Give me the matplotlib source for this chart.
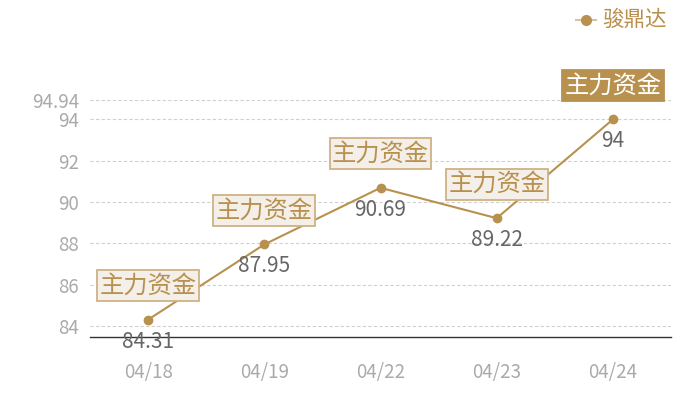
import numpy as np
import matplotlib.pyplot as plt

plt.rcParams['font.family'] = ['Noto Sans CJK SC', 'DejaVu Sans']

dates = ['04/18', '04/19', '04/22', '04/23', '04/24']
values = [84.31, 87.95, 90.69, 89.22, 94.0]
value_labels = ['84.31', '87.95', '90.69', '89.22', '94']
yticks = [84, 86, 88, 90, 92, 94, 94.94]
series_name = '骏鼎达'
tag = '主力资金'

gold = '#b8914f'
light = '#f4efe8'

fig = plt.figure(figsize=(7, 4), dpi=100)
ax = fig.add_axes([0.1286, 0.1575, 0.83, 0.5925])

x = np.arange(len(dates))
ax.plot(x, values, color=gold, lw=1.5, marker='o', ms=6, zorder=3)

ax.set_xlim(-0.5, len(dates) - 0.5)
ax.set_ylim(83.47, 94.94)
ax.set_yticks(yticks)
ax.set_yticklabels([('%g' % t) for t in yticks])
ax.set_xticks(x)
ax.set_xticklabels(dates)
ax.tick_params(axis='both', length=0, colors='#aaaaaa', labelsize=13.5)
ax.tick_params(axis='x', pad=18)
ax.tick_params(axis='y', pad=8)
for t in yticks:
    ax.axhline(t, color='#d0d0d0', lw=0.8, ls=(0, (3, 2)), zorder=1)
for s in ['top', 'right', 'left']:
    ax.spines[s].set_visible(False)
ax.spines['bottom'].set_color('#333333')
ax.spines['bottom'].set_linewidth(1)

for i, (v, lab) in enumerate(zip(values, value_labels)):
    ax.annotate(lab, (i, v), xytext=(0, -22), textcoords='offset pixels',
                ha='center', va='center', fontsize=15, color='#666666', zorder=4)
    last = i == len(values) - 1
    ax.annotate(tag, (i, v), xytext=(0, 34), textcoords='offset pixels',
                ha='center', va='center', fontsize=17.5,
                color='white' if last else gold,
                bbox=dict(boxstyle='square,pad=0.1', fc=gold if last else light,
                          ec='#cfb283' if not last else gold, lw=1.3),
                zorder=5, annotation_clip=False)

# legend
fig.lines.append(plt.Line2D([576 / 700, 596 / 700], [1 - 20 / 400] * 2,
                            transform=fig.transFigure, color='#d9c4a0', lw=1.5))
fig.lines.append(plt.Line2D([586 / 700], [1 - 20 / 400], transform=fig.transFigure,
                            color=gold, marker='o', ms=7, ls='none'))
fig.text(602 / 700, 1 - 20 / 400, series_name, color=gold, fontsize=15.5,
         ha='left', va='center')

fig.savefig('out.png', dpi=100)
